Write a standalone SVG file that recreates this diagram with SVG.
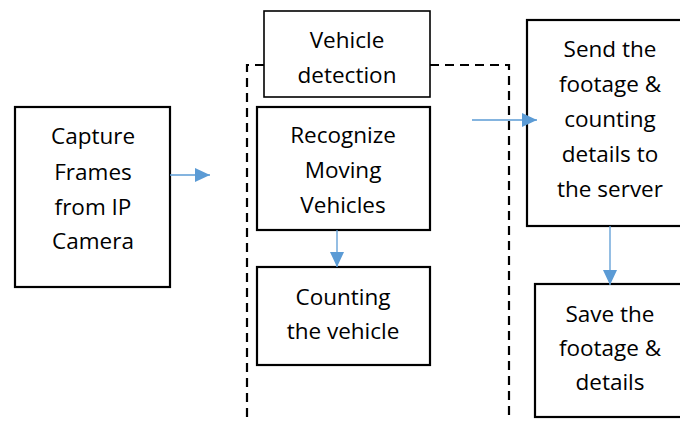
<svg xmlns="http://www.w3.org/2000/svg" width="680" height="421" viewBox="0 0 680 421">
<defs>
<marker id="ah" markerWidth="16" markerHeight="14" refX="15" refY="7" orient="auto" markerUnits="userSpaceOnUse">
<path d="M0,0 L15,7 L0,14 Z" fill="#5B9BD5"/>
</marker>
</defs>
<style>
.box{fill:#fff;stroke:#000;stroke-width:2.2}
.thin{fill:#fff;stroke:#000;stroke-width:1.6}
.t{font-family:"Open Sans","Liberation Sans",Arial,sans-serif;font-size:22.5px;fill:#000;text-anchor:middle}
.c{stroke:#5B9BD5;stroke-width:1.3;fill:none}
</style>
<rect width="680" height="421" fill="#fff"/>
<path d="M264,65 H247 V421 M430,65 H509 V421" fill="none" stroke="#000" stroke-width="2.2" stroke-dasharray="9,6"/>
<g id="capture">
<rect class="box" x="15" y="107" width="155" height="180"/>
<text class="t" x="93" y="144">Capture</text>
<text class="t" x="93" y="180">Frames</text>
<text class="t" x="93" y="215">from IP</text>
<text class="t" x="93" y="249">Camera</text>
</g>
<g id="vehicle-detection">
<rect class="thin" x="264" y="11" width="166" height="86"/>
<text class="t" x="347" y="48">Vehicle</text>
<text class="t" x="347" y="83">detection</text>
</g>
<g id="recognize">
<rect class="box" x="257" y="107" width="173" height="123"/>
<text class="t" x="343" y="143">Recognize</text>
<text class="t" x="343" y="178">Moving</text>
<text class="t" x="343" y="213">Vehicles</text>
</g>
<g id="counting">
<rect class="box" x="257" y="267" width="173" height="98"/>
<text class="t" x="343" y="305">Counting</text>
<text class="t" x="343" y="339">the vehicle</text>
</g>
<g id="send">
<rect class="box" x="527" y="20" width="160" height="206"/>
<text class="t" x="610" y="57">Send the</text>
<text class="t" x="610" y="92">footage &amp;</text>
<text class="t" x="610" y="127">counting</text>
<text class="t" x="610" y="162">details to</text>
<text class="t" x="610" y="197">the server</text>
</g>
<g id="save">
<rect class="box" x="535" y="284" width="152" height="133"/>
<text class="t" x="610" y="322">Save the</text>
<text class="t" x="610" y="356">footage &amp;</text>
<text class="t" x="610" y="390">details</text>
</g>
<g id="connectors">
<line class="c" x1="170" y1="175" x2="210" y2="175" marker-end="url(#ah)"/>
<line class="c" x1="337" y1="230" x2="337" y2="267" marker-end="url(#ah)"/>
<line class="c" x1="472" y1="120" x2="537" y2="120" marker-end="url(#ah)"/>
<line class="c" x1="610" y1="226" x2="610" y2="285" marker-end="url(#ah)"/>
</g>
</svg>
